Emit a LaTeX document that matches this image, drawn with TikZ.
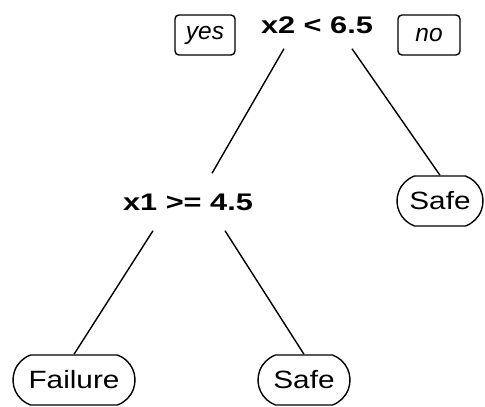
\documentclass[tikz,border=0pt]{standalone}
\usepackage{fontspec}
\setmainfont{Liberation Sans}
\newfontfamily\splitfont[FakeStretch=1.28]{Liberation Sans}
\newfontfamily\leaffont[FakeStretch=1.19]{Liberation Sans}
\usetikzlibrary{shapes.misc}
\tikzset{
  split/.style={inner sep=0pt, font=\splitfont\bfseries\fontsize{24}{28}\selectfont},
  leaf/.style={draw, rounded rectangle, rounded rectangle arc length=140,
    minimum height=50pt, inner sep=0pt, font=\leaffont\fontsize{25}{30}\selectfont},
  answer/.style={draw, rounded corners=4pt, minimum height=40pt, inner sep=0pt,
    font=\itshape\fontsize{24.5}{30}\selectfont},
}
\begin{document}
\begin{tikzpicture}[x=1pt, y=-1pt, line width=1.4pt]
  \useasboundingbox (0,0) rectangle (485,407);

  \node[split, minimum height=46pt] (X2) at (317,25) {x2 < 6.5};
  \node[answer, minimum width=60pt] (yes) at (205,35) {yes};
  \node[answer, minimum width=62pt] (no) at (429,35) {no};

  \node[split, minimum height=56pt] (X1) at (188,202) {x1 >= 4.5};
  \node[leaf, minimum width=86pt] (SafeR) at (440,201) {Safe};

  \node[leaf, minimum width=122pt] (Fail) at (74,380) {Failure};
  \node[leaf, minimum width=92pt] (SafeL) at (304,380) {Safe};

  \draw ([xshift=-33pt]X2.south) -- ([xshift=24pt]X1.north);
  \draw ([xshift=35pt]X2.south) -- (SafeR.north);
  \draw ([xshift=-35pt]X1.south) -- (Fail.north);
  \draw ([xshift=37pt]X1.south) -- (SafeL.north);
\end{tikzpicture}
\end{document}
